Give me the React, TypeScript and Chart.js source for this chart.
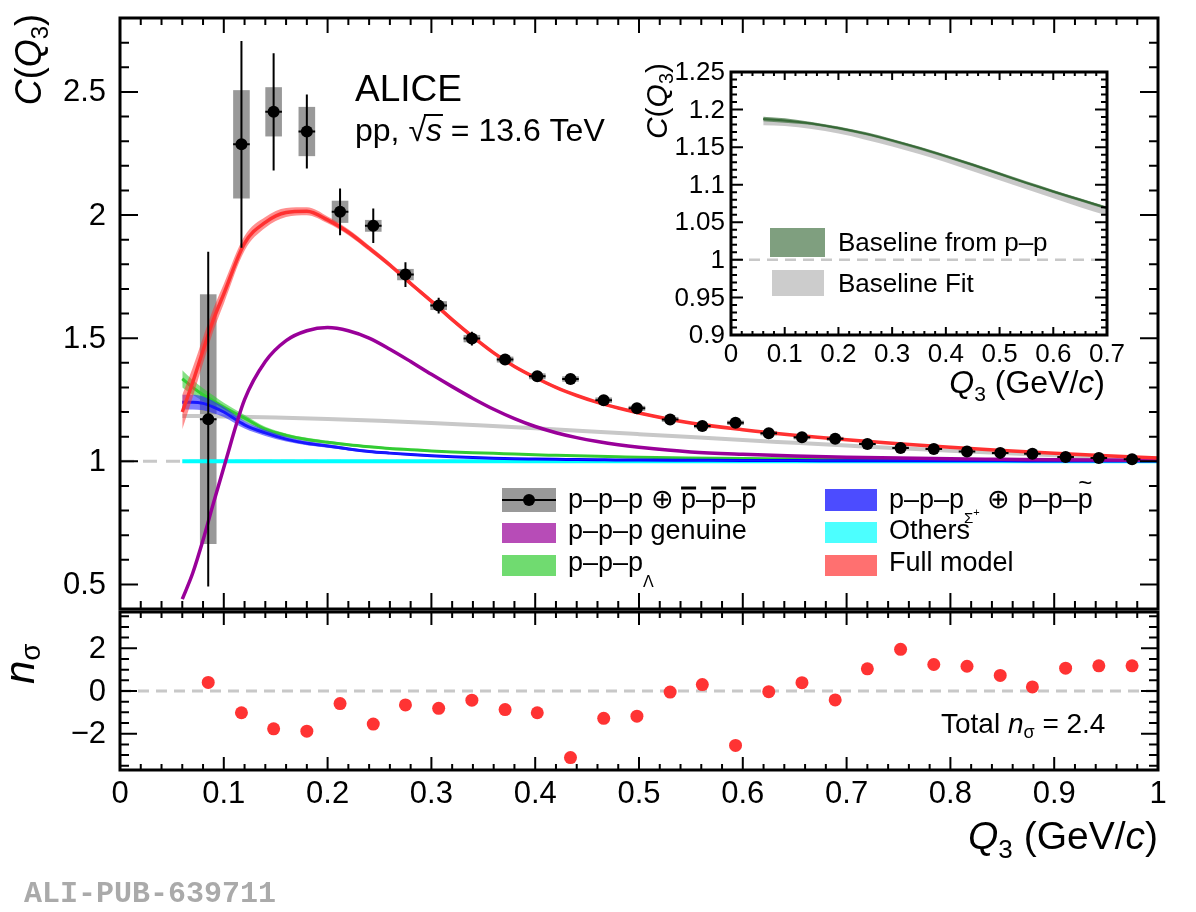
import React, { useEffect, useRef } from "react";
import { Chart, registerables } from "chart.js";

Chart.register(...registerables);

const SANS = '"Liberation Sans", Arial, Helvetica, sans-serif';

// ---------------- data ----------------
const qBins = [0.085, 0.117, 0.148, 0.180, 0.212, 0.244, 0.275, 0.307, 0.339, 0.371, 0.402, 0.434, 0.466, 0.498, 0.530, 0.561, 0.593, 0.625, 0.657, 0.689, 0.720, 0.752, 0.784, 0.816, 0.848, 0.879, 0.911, 0.943, 0.975];
const cValues = [1.171, 2.287, 2.419, 2.339, 2.013, 1.956, 1.758, 1.632, 1.498, 1.413, 1.345, 1.334, 1.248, 1.215, 1.170, 1.143, 1.156, 1.114, 1.097, 1.091, 1.070, 1.054, 1.050, 1.040, 1.034, 1.030, 1.017, 1.013, 1.008];
const statErr = [0.68, 0.42, 0.238, 0.15, 0.095, 0.07, 0.05, 0.032, 0.028, 0.022, 0.02, 0.018, 0.016, 0.015, 0.014, 0.013, 0.013, 0.012, 0.012, 0.011, 0.011, 0.01, 0.01, 0.01, 0.01, 0.009, 0.009, 0.009, 0.009];
const systErr = [0.507, 0.22, 0.10, 0.10, 0.045, 0.024, 0.023, 0.018, 0.015, 0.012, 0.012, 0.011, 0.011, 0.010, 0.010, 0.009, 0.009, 0.009, 0.008, 0.008, 0.008, 0.007, 0.007, 0.007, 0.007, 0.006, 0.006, 0.006, 0.006];
const binHalfWidth = 0.008;
const nSigma = [0.4, -1.02, -1.77, -1.88, -0.59, -1.55, -0.65, -0.81, -0.43, -0.87, -1.02, -3.12, -1.28, -1.18, -0.05, 0.3, -2.55, -0.03, 0.39, -0.42, 1.04, 1.95, 1.24, 1.16, 0.73, 0.19, 1.07, 1.18, 1.18];

const modelQ = [0.06, 0.07, 0.08, 0.09, 0.1, 0.12, 0.14, 0.16, 0.18, 0.2, 0.22, 0.24, 0.26, 0.28, 0.3, 0.32, 0.34, 0.36, 0.38, 0.4, 0.42, 0.44, 0.46, 0.48, 0.5, 0.55, 0.6, 0.65, 0.7, 0.75, 0.8, 0.85, 0.9, 0.95, 1.0];
const fullModel = [1.20, 1.32, 1.45, 1.575, 1.68, 1.885, 1.97, 2.01, 2.015, 1.98, 1.93, 1.865, 1.797, 1.722, 1.65, 1.575, 1.505, 1.44, 1.385, 1.34, 1.30, 1.267, 1.239, 1.216, 1.196, 1.155, 1.128, 1.106, 1.087, 1.071, 1.057, 1.044, 1.032, 1.022, 1.013];
const fullModelErr = [0.07, 0.06, 0.052, 0.045, 0.04, 0.03, 0.022, 0.018, 0.016, 0.014, 0.012, 0.011, 0.01, 0.009, 0.008, 0.008, 0.007, 0.007, 0.006, 0.006, 0.006, 0.005, 0.005, 0.005, 0.005, 0.004, 0.004, 0.004, 0.003, 0.003, 0.003, 0.003, 0.003, 0.003, 0.003];
const genuine = [0.44, 0.545, 0.68, 0.83, 0.975, 1.25, 1.405, 1.49, 1.53, 1.543, 1.53, 1.50, 1.455, 1.405, 1.353, 1.303, 1.255, 1.211, 1.173, 1.141, 1.116, 1.096, 1.08, 1.067, 1.057, 1.038, 1.028, 1.021, 1.016, 1.013, 1.01, 1.008, 1.006, 1.005, 1.004];
const ppLambda = [1.335, 1.30, 1.27, 1.245, 1.22, 1.175, 1.13, 1.105, 1.088, 1.077, 1.067, 1.059, 1.052, 1.047, 1.042, 1.038, 1.035, 1.032, 1.029, 1.026, 1.024, 1.022, 1.02, 1.018, 1.016, 1.013, 1.011, 1.01, 1.008, 1.007, 1.006, 1.005, 1.004, 1.003, 1.003];
const ppLambdaErr = [0.035, 0.03, 0.026, 0.022, 0.018, 0.013, 0.01, 0.008, 0.007, 0.006, 0.005, 0.005, 0.004, 0.004, 0.004, 0.003, 0.003, 0.003, 0.003, 0.003, 0.003, 0.002, 0.002, 0.002, 0.002, 0.002, 0.002, 0.002, 0.002, 0.002, 0.002, 0.002, 0.002, 0.002, 0.002];
const ppSigma = [1.24, 1.24, 1.235, 1.22, 1.20, 1.148, 1.115, 1.09, 1.073, 1.062, 1.05, 1.04, 1.033, 1.027, 1.022, 1.018, 1.015, 1.012, 1.01, 1.009, 1.008, 1.007, 1.006, 1.005, 1.005, 1.004, 1.003, 1.003, 1.002, 1.002, 1.002, 1.002, 1.001, 1.001, 1.001];
const ppSigmaErr = [0.03, 0.03, 0.028, 0.025, 0.02, 0.015, 0.012, 0.01, 0.008, 0.007, 0.006, 0.005, 0.005, 0.004, 0.004, 0.003, 0.003, 0.003, 0.003, 0.002, 0.002, 0.002, 0.002, 0.002, 0.002, 0.002, 0.002, 0.002, 0.002, 0.002, 0.002, 0.002, 0.002, 0.002, 0.002];
const othersQ = [0.06, 1.0];
const others = [1.0, 1.0];
const baselineQ = [0.06, 0.1, 0.15, 0.2, 0.25, 0.3, 0.35, 0.4, 0.45, 0.5, 0.55, 0.6, 0.65, 0.7, 0.75, 0.8, 0.85, 0.9, 0.95, 1.0];
const baselineFit = [1.184, 1.182, 1.178, 1.172, 1.164, 1.155, 1.145, 1.134, 1.122, 1.110, 1.098, 1.086, 1.075, 1.064, 1.053, 1.043, 1.033, 1.024, 1.016, 1.008];

const insetQ = [0.06, 0.1, 0.15, 0.2, 0.25, 0.3, 0.35, 0.4, 0.45, 0.5, 0.55, 0.6, 0.65, 0.7];
const baselinePP = [1.1875, 1.1855, 1.1815, 1.1755, 1.168, 1.159, 1.149, 1.138, 1.1265, 1.1145, 1.1025, 1.091, 1.08, 1.069];
const baselinePPErr = [0.003, 0.003, 0.002, 0.002, 0.002, 0.002, 0.002, 0.002, 0.002, 0.002, 0.002, 0.002, 0.002, 0.002];
const baselineFitInset = [1.184, 1.182, 1.178, 1.172, 1.164, 1.155, 1.145, 1.134, 1.122, 1.110, 1.098, 1.086, 1.075, 1.064];
const baselineFitInsetErr = [0.005, 0.004, 0.004, 0.004, 0.004, 0.004, 0.004, 0.004, 0.004, 0.004, 0.004, 0.004, 0.005, 0.005];

const mainYTicks = [0.5, 1, 1.5, 2, 2.5];
const mainYLabels = ["0.5", "1", "1.5", "2", "2.5"];
const nsYTicks = [-2, 0, 2];
const nsYLabels = ["\u22122", "0", "2"];
const xTicks = [0, 0.1, 0.2, 0.3, 0.4, 0.5, 0.6, 0.7, 0.8, 0.9, 1];
const xLabels = ["0", "0.1", "0.2", "0.3", "0.4", "0.5", "0.6", "0.7", "0.8", "0.9", "1"];
const insetYTicks = [0.9, 0.95, 1, 1.05, 1.1, 1.15, 1.2, 1.25];
const insetYLabels = ["0.9", "0.95", "1", "1.05", "1.1", "1.15", "1.2", "1.25"];
const insetXTicks = [0, 0.1, 0.2, 0.3, 0.4, 0.5, 0.6, 0.7];
const insetXLabels = ["0", "0.1", "0.2", "0.3", "0.4", "0.5", "0.6", "0.7"];

// ---------------- helpers ----------------
type Seg = { t: string; size: number; italic?: boolean; bold?: boolean; dy?: number; family?: string };
const fontOf = (s: Seg) => `${s.italic ? "italic " : ""}${s.bold ? "bold " : ""}${s.size}px ${s.family || SANS}`;

function drawRich(ctx: CanvasRenderingContext2D, x: number, y: number, segs: Seg[], align: "left" | "right" = "left") {
  const widths = segs.map((s) => {
    ctx.font = fontOf(s);
    return ctx.measureText(s.t).width;
  });
  const total = widths.reduce((a, b) => a + b, 0);
  let cx = align === "right" ? x - total : x;
  ctx.textAlign = "left";
  ctx.textBaseline = "alphabetic";
  const pos: number[] = [];
  segs.forEach((s, i) => {
    ctx.font = fontOf(s);
    ctx.fillText(s.t, cx, y + (s.dy || 0));
    pos.push(cx);
    cx += widths[i];
  });
  return { pos, widths, total };
}

type FrameOpts = {
  lw: number;
  xMajor: number; xMinor: number; yMajor: number; yMinor: number;
  xMajB: number; xMinB: number; xMajT: number; xMinT: number;
  yMajL: number; yMinL: number; yMajR: number; yMinR: number;
};

function eachTick(min: number, max: number, step: number, major: number, fn: (v: number, maj: boolean) => void) {
  const k0 = Math.ceil(min / step - 1e-6);
  const k1 = Math.floor(max / step + 1e-6);
  for (let k = k0; k <= k1; k++) {
    const v = k * step;
    const r = v / major;
    fn(v, Math.abs(r - Math.round(r)) < 1e-6);
  }
}

function drawFrame(chart: any, o: FrameOpts) {
  const { ctx, chartArea: a, scales } = chart;
  const xs = scales.x, ys = scales.y;
  ctx.save();
  ctx.strokeStyle = "#000";
  ctx.lineWidth = 2;
  ctx.beginPath();
  eachTick(xs.min, xs.max, o.xMinor, o.xMajor, (v, maj) => {
    const px = xs.getPixelForValue(v);
    ctx.moveTo(px, a.bottom);
    ctx.lineTo(px, a.bottom - (maj ? o.xMajB : o.xMinB));
    ctx.moveTo(px, a.top);
    ctx.lineTo(px, a.top + (maj ? o.xMajT : o.xMinT));
  });
  eachTick(ys.min, ys.max, o.yMinor, o.yMajor, (v, maj) => {
    const py = ys.getPixelForValue(v);
    ctx.moveTo(a.left, py);
    ctx.lineTo(a.left + (maj ? o.yMajL : o.yMinL), py);
    ctx.moveTo(a.right, py);
    ctx.lineTo(a.right - (maj ? o.yMajR : o.yMinR), py);
  });
  ctx.stroke();
  ctx.lineWidth = o.lw;
  ctx.strokeRect(a.left, a.top, a.right - a.left, a.bottom - a.top);
  ctx.restore();
}

function dashedH(chart: any, value: number, dash: number[], width: number) {
  const { ctx, chartArea: a, scales } = chart;
  const py = scales.y.getPixelForValue(value);
  ctx.save();
  ctx.strokeStyle = "#c8c8c8";
  ctx.lineWidth = width;
  ctx.setLineDash(dash);
  ctx.beginPath();
  ctx.moveTo(a.left, py);
  ctx.lineTo(a.right, py);
  ctx.stroke();
  ctx.restore();
}

const pts = (xs: number[], ys: number[]) => xs.map((x, i) => ({ x, y: ys[i] }));
const shifted = (xs: number[], ys: number[], es: number[], s: number) => xs.map((x, i) => ({ x, y: ys[i] + s * es[i] }));

function bandSets(xs: number[], ys: number[], es: number[], fillColor: string, order: number) {
  return [
    { data: shifted(xs, ys, es, 1), fill: "+1", backgroundColor: fillColor, borderColor: "rgba(0,0,0,0)", borderWidth: 0, pointRadius: 0, order, cubicInterpolationMode: "monotone" },
    { data: shifted(xs, ys, es, -1), fill: false, borderColor: "rgba(0,0,0,0)", borderWidth: 0, pointRadius: 0, order, cubicInterpolationMode: "monotone" },
  ];
}
function lineSet(xs: number[], ys: number[], color: string, width: number, order: number) {
  return { data: pts(xs, ys), borderColor: color, borderWidth: width, pointRadius: 0, fill: false, order, cubicInterpolationMode: "monotone" };
}

function baseOptions(xmin: number, xmax: number, ymin: number, ymax: number, padding: any) {
  return {
    responsive: false,
    animation: false,
    devicePixelRatio: 1,
    events: [],
    layout: { padding },
    plugins: { legend: { display: false }, tooltip: { enabled: false } },
    scales: {
      x: { type: "linear", min: xmin, max: xmax, display: false },
      y: { type: "linear", min: ymin, max: ymax, display: false },
    },
  };
}

// ---------------- main (top) panel ----------------
function mainConfig(): any {
  const mainPlugin = {
    id: "mainDecor",
    beforeDatasetsDraw(chart: any) {
      const { ctx, scales } = chart;
      dashedH(chart, 1, [14, 9], 3);
      const x = scales.x, y = scales.y;
      ctx.save();
      ctx.fillStyle = "#999999";
      qBins.forEach((q, i) => {
        const x0 = x.getPixelForValue(q - binHalfWidth), x1 = x.getPixelForValue(q + binHalfWidth);
        const y0 = y.getPixelForValue(cValues[i] + systErr[i]), y1 = y.getPixelForValue(cValues[i] - systErr[i]);
        ctx.fillRect(x0, y0, x1 - x0, y1 - y0);
      });
      ctx.restore();
    },
    afterDatasetsDraw(chart: any) {
      const { ctx, scales } = chart;
      const x = scales.x, y = scales.y;
      ctx.save();
      ctx.strokeStyle = "#000";
      ctx.lineWidth = 2;
      ctx.beginPath();
      qBins.forEach((q, i) => {
        const px = x.getPixelForValue(q);
        ctx.moveTo(px, y.getPixelForValue(cValues[i] + statErr[i]));
        ctx.lineTo(px, y.getPixelForValue(cValues[i] - statErr[i]));
        const py = y.getPixelForValue(cValues[i]);
        ctx.moveTo(x.getPixelForValue(q - binHalfWidth), py);
        ctx.lineTo(x.getPixelForValue(q + binHalfWidth), py);
      });
      ctx.stroke();
      ctx.restore();
    },
    afterDraw(chart: any) {
      const { ctx, chartArea: a, scales } = chart;
      drawFrame(chart, {
        lw: 3, xMajor: 0.1, xMinor: 0.02, yMajor: 0.5, yMinor: 0.1,
        xMajB: 16, xMinB: 8, xMajT: 15, xMinT: 7, yMajL: 18, yMinL: 9, yMajR: 18, yMinR: 9,
      });
      ctx.save();
      ctx.fillStyle = "#000";
      ctx.font = `31px ${SANS}`;
      ctx.textAlign = "right";
      ctx.textBaseline = "middle";
      mainYTicks.forEach((v, i) => ctx.fillText(mainYLabels[i], a.left - 14, scales.y.getPixelForValue(v) + 1));

      // y title
      ctx.save();
      ctx.translate(41, 14);
      ctx.rotate(-Math.PI / 2);
      drawRich(ctx, 0, 0, [
        { t: "C", size: 36, italic: true }, { t: "(", size: 36 }, { t: "Q", size: 36, italic: true },
        { t: "3", size: 24, dy: 7 }, { t: ")", size: 36 },
      ], "right");
      ctx.restore();

      // ALICE label
      ctx.font = `37px ${SANS}`;
      ctx.textAlign = "left";
      ctx.textBaseline = "alphabetic";
      ctx.fillText("ALICE", 355, 101);
      const pp = drawRich(ctx, 355, 141, [
        { t: "pp, ", size: 32 }, { t: "\u221A", size: 32 }, { t: "s", size: 32, italic: true }, { t: " = 13.6 TeV", size: 32 },
      ]);
      ctx.strokeStyle = "#000";
      ctx.lineWidth = 2;
      ctx.beginPath();
      ctx.moveTo(pp.pos[1] + pp.widths[1] - 2, 141 - 26);
      ctx.lineTo(pp.pos[2] + pp.widths[2] + 1, 141 - 26);
      ctx.stroke();

      // legend
      ctx.fillStyle = "#999999";
      ctx.fillRect(502, 488, 54, 24);
      ctx.strokeStyle = "#000";
      ctx.lineWidth = 2;
      ctx.beginPath();
      ctx.moveTo(502, 500);
      ctx.lineTo(556, 500);
      ctx.stroke();
      ctx.fillStyle = "#000";
      ctx.beginPath();
      ctx.arc(529, 500, 6, 0, Math.PI * 2);
      ctx.fill();
      const r1 = drawRich(ctx, 568, 508, [
        { t: "p\u2013p\u2013p \u2295 ", size: 27 }, { t: "p", size: 27 }, { t: "\u2013", size: 27 }, { t: "p", size: 27 }, { t: "\u2013", size: 27 }, { t: "p", size: 27 },
      ]);
      ctx.lineWidth = 3;
      ctx.beginPath();
      [1, 3, 5].forEach((k) => {
        ctx.moveTo(r1.pos[k], 508 - 20);
        ctx.lineTo(r1.pos[k] + r1.widths[k], 508 - 20);
      });
      ctx.stroke();
      ctx.fillStyle = "rgba(153,0,153,0.7)";
      ctx.fillRect(502, 523, 54, 20);
      ctx.fillStyle = "#000";
      drawRich(ctx, 568, 539, [{ t: "p\u2013p\u2013p genuine", size: 27 }]);
      ctx.fillStyle = "rgba(51,204,51,0.7)";
      ctx.fillRect(502, 555, 54, 21);
      ctx.fillStyle = "#000";
      drawRich(ctx, 568, 571, [{ t: "p\u2013p\u2013p", size: 27 }, { t: "\u039B", size: 16, dy: 16 }]);
      ctx.fillStyle = "rgba(0,0,255,0.7)";
      ctx.fillRect(825, 489, 52, 22);
      ctx.fillStyle = "rgba(0,255,255,0.7)";
      ctx.fillRect(825, 522, 52, 21);
      ctx.fillStyle = "rgba(255,51,51,0.7)";
      ctx.fillRect(825, 555, 52, 21);
      ctx.fillStyle = "#000";
      const r4 = drawRich(ctx, 889, 508, [
        { t: "p\u2013p\u2013p", size: 27 }, { t: "\u03A3", size: 15, dy: 15 }, { t: "+", size: 11, dy: 8 },
        { t: " \u2295 p\u2013p\u2013", size: 27 }, { t: "p", size: 27 },
      ]);
      ctx.font = `24px ${SANS}`;
      ctx.textAlign = "center";
      ctx.fillText("~", r4.pos[4] + r4.widths[4] / 2, 508 - 17);
      ctx.textAlign = "left";
      drawRich(ctx, 889, 539, [{ t: "Others", size: 27 }]);
      drawRich(ctx, 889, 571, [{ t: "Full model", size: 27 }]);
      ctx.restore();
    },
  };

  return {
    type: "line",
    data: {
      datasets: [
        { data: pts(qBins, cValues), showLine: false, pointRadius: 6, pointBackgroundColor: "#000", pointBorderColor: "#000", pointBorderWidth: 0, order: 0 },
        ...bandSets(modelQ, fullModel, fullModelErr, "rgba(255,51,51,0.55)", 1),
        lineSet(modelQ, fullModel, "#ff3030", 3.5, 1),
        lineSet(modelQ, genuine, "#990099", 3.5, 2),
        ...bandSets(modelQ, ppSigma, ppSigmaErr, "rgba(40,40,255,0.6)", 3),
        lineSet(modelQ, ppSigma, "#0000ff", 3, 3),
        ...bandSets(modelQ, ppLambda, ppLambdaErr, "rgba(51,204,51,0.6)", 4),
        lineSet(modelQ, ppLambda, "#33cc33", 3, 4),
        lineSet(baselineQ, baselineFit, "#c8c8c8", 4, 5),
        lineSet(othersQ, others, "#00ffff", 4, 6),
      ],
    },
    options: baseOptions(0, 1, 0.4, 2.8, { left: 120, right: 38, top: 18, bottom: 3 }),
    plugins: [mainPlugin],
  };
}

// ---------------- ratio (bottom) panel ----------------
function ratioConfig(): any {
  const plugin = {
    id: "ratioDecor",
    beforeDatasetsDraw(chart: any) {
      dashedH(chart, 0, [11, 7], 3);
    },
    afterDraw(chart: any) {
      const { ctx, chartArea: a, scales } = chart;
      drawFrame(chart, {
        lw: 3, xMajor: 0.1, xMinor: 0.02, yMajor: 2, yMinor: 0.5,
        xMajB: 13, xMinB: 6, xMajT: 13, xMinT: 6, yMajL: 17, yMinL: 9, yMajR: 17, yMinR: 9,
      });
      ctx.save();
      ctx.fillStyle = "#000";
      ctx.font = `31px ${SANS}`;
      ctx.textAlign = "right";
      ctx.textBaseline = "middle";
      nsYTicks.forEach((v, i) => ctx.fillText(nsYLabels[i], a.left - 14, scales.y.getPixelForValue(v) + 1));
      ctx.textAlign = "center";
      ctx.textBaseline = "top";
      ctx.font = `31px ${SANS}`;
      xTicks.forEach((v, i) => ctx.fillText(xLabels[i], scales.x.getPixelForValue(v), a.bottom + 9));

      drawRich(ctx, a.right, 249, [
        { t: "Q", size: 39, italic: true }, { t: "3", size: 26, dy: 9 }, { t: " (GeV/", size: 39 }, { t: "c", size: 39, italic: true }, { t: ")", size: 39 },
      ], "right");

      ctx.save();
      ctx.translate(34, 84);
      ctx.rotate(-Math.PI / 2);
      drawRich(ctx, 0, 0, [{ t: "n", size: 42, italic: true }, { t: "\u03C3", size: 28, dy: 6 }]);
      ctx.restore();

      drawRich(ctx, 941, 133, [
        { t: "Total ", size: 28 }, { t: "n", size: 28, italic: true }, { t: "\u03C3", size: 18, dy: 5 }, { t: " = 2.4", size: 28 },
      ]);

      ctx.fillStyle = "#aaaaaa";
      ctx.font = `bold 30px "Liberation Mono", "DejaVu Sans Mono", monospace`;
      ctx.textAlign = "left";
      ctx.textBaseline = "alphabetic";
      ctx.fillText("ALI-PUB-639711", 24, 302);
      ctx.restore();
    },
  };
  return {
    type: "line",
    data: {
      datasets: [
        { data: pts(qBins, nSigma), showLine: false, pointRadius: 6.5, pointBackgroundColor: "#ff3333", pointBorderColor: "#ff3333", pointBorderWidth: 0 },
      ],
    },
    options: baseOptions(0, 1, -3.7, 3.7, { left: 120, right: 38, top: 12, bottom: 142 }),
    plugins: [plugin],
  };
}

// ---------------- inset ----------------
function insetConfig(): any {
  const plugin = {
    id: "insetDecor",
    beforeDatasetsDraw(chart: any) {
      const { ctx, chartArea: a } = chart;
      ctx.save();
      ctx.fillStyle = "#fff";
      ctx.fillRect(a.left, a.top, a.right - a.left, a.bottom - a.top);
      ctx.restore();
      dashedH(chart, 1, [11, 7], 2.5);
    },
    afterDraw(chart: any) {
      const { ctx, chartArea: a, scales } = chart;
      drawFrame(chart, {
        lw: 3, xMajor: 0.1, xMinor: 0.02, yMajor: 0.05, yMinor: 0.01,
        xMajB: 8, xMinB: 4, xMajT: 8, xMinT: 4, yMajL: 12, yMinL: 6, yMajR: 12, yMinR: 6,
      });
      ctx.save();
      ctx.fillStyle = "#000";
      ctx.font = `26px ${SANS}`;
      ctx.textAlign = "right";
      ctx.textBaseline = "middle";
      insetYTicks.forEach((v, i) => ctx.fillText(insetYLabels[i], a.left - 6, scales.y.getPixelForValue(v) + 1));
      ctx.textAlign = "center";
      ctx.textBaseline = "top";
      insetXTicks.forEach((v, i) => ctx.fillText(insetXLabels[i], scales.x.getPixelForValue(v), a.bottom + 7));

      drawRich(ctx, a.right - 2, 353, [
        { t: "Q", size: 32, italic: true }, { t: "3", size: 21, dy: 8 }, { t: " (GeV/", size: 32 }, { t: "c", size: 32, italic: true }, { t: ")", size: 32 },
      ], "right");

      ctx.save();
      ctx.translate(27, 23);
      ctx.rotate(-Math.PI / 2);
      drawRich(ctx, 0, 0, [
        { t: "C", size: 30, italic: true }, { t: "(", size: 30 }, { t: "Q", size: 30, italic: true },
        { t: "3", size: 20, dy: 6 }, { t: ")", size: 30 },
      ], "right");
      ctx.restore();

      ctx.fillStyle = "rgb(127,159,127)";
      ctx.fillRect(130, 188, 55, 29);
      ctx.fillStyle = "#cccccc";
      ctx.fillRect(132, 230, 52, 26);
      ctx.fillStyle = "#000";
      drawRich(ctx, 198, 211, [{ t: "Baseline from p\u2013p", size: 26 }]);
      drawRich(ctx, 198, 252, [{ t: "Baseline Fit", size: 26 }]);
      ctx.restore();
    },
  };
  return {
    type: "line",
    data: {
      datasets: [
        ...bandSets(insetQ, baselinePP, baselinePPErr, "rgba(60,110,60,0.7)", 1),
        lineSet(insetQ, baselinePP, "#2e5e2e", 2, 1),
        ...bandSets(insetQ, baselineFitInset, baselineFitInsetErr, "rgba(190,190,190,0.85)", 2),
      ],
    },
    options: baseOptions(0, 0.7, 0.9, 1.25, { left: 91, right: 53, top: 32, bottom: 75 }),
    plugins: [plugin],
  };
}

export default function App() {
  const mainRef = useRef<HTMLCanvasElement>(null);
  const ratioRef = useRef<HTMLCanvasElement>(null);
  const insetRef = useRef<HTMLCanvasElement>(null);

  useEffect(() => {
    const charts = [
      new Chart(mainRef.current as HTMLCanvasElement, mainConfig()),
      new Chart(ratioRef.current as HTMLCanvasElement, ratioConfig()),
      new Chart(insetRef.current as HTMLCanvasElement, insetConfig()),
    ];
    return () => charts.forEach((c) => c.destroy());
  }, []);

  return (
    <div style={{ position: "absolute", left: 0, top: 0, width: 1196, height: 912, background: "#fff", overflow: "hidden" }}>
      <canvas ref={mainRef} width={1196} height={615} style={{ position: "absolute", left: 0, top: 0, width: 1196, height: 615 }} />
      <canvas ref={ratioRef} width={1196} height={312} style={{ position: "absolute", left: 0, top: 600, width: 1196, height: 312 }} />
      <canvas ref={insetRef} width={520} height={370} style={{ position: "absolute", left: 640, top: 40, width: 520, height: 370 }} />
    </div>
  );
}
